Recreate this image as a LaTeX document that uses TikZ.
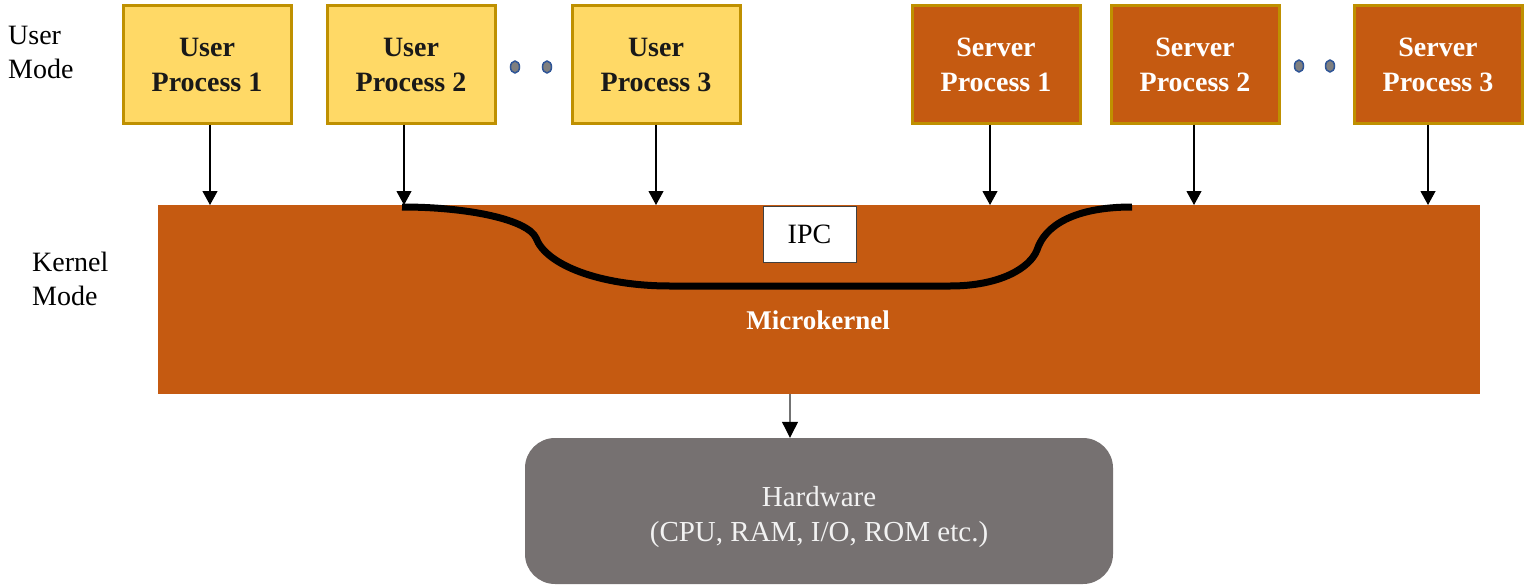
\documentclass[tikz,border=0pt]{standalone}
\usepackage{fontspec}
\setmainfont{Liberation Serif}
\usetikzlibrary{arrows.meta,shapes.geometric}
\definecolor{userfill}{HTML}{FFD966}
\definecolor{goldline}{HTML}{BF9000}
\definecolor{rust}{HTML}{C55A11}
\definecolor{hwgray}{HTML}{767171}
\definecolor{dotblue}{HTML}{2F5597}
\definecolor{dotgray}{HTML}{7F7F7F}
\tikzset{
  procbox/.style={draw=goldline, line width=3pt, minimum width=168pt, minimum height=117pt,
    align=center, inner sep=0pt, font=\fontsize{28}{35}\selectfont\bfseries},
  userproc/.style={procbox, fill=userfill, text=black!90},
  serverproc/.style={procbox, fill=rust, text=white},
  modelabel/.style={align=left, anchor=north west, inner sep=0pt, font=\fontsize{28}{34}\selectfont},
  callarrow/.style={line width=1.1pt, -{Triangle[width=15pt,length=14pt]}},
  ellipsisdot/.style={ellipse, draw=dotblue, line width=1.5pt, fill=dotgray, minimum width=9pt, minimum height=12pt, inner sep=0pt},
  ipcpath/.style={line width=7pt, line cap=butt}
}
\begin{document}
\begin{tikzpicture}[x=1pt, y=-1pt]
\useasboundingbox (0,0) rectangle (1530,586);

% mode labels
\node[modelabel] (umode) at (8,26) {User\\Mode};
\node[modelabel] (kmode) at (32,252) {Kernel\\Mode};

% user-space processes
\node[userproc] (up1) at (207,64.5) {User\\Process 1};
\node[userproc] (up2) at (411,64.5) {User\\Process 2};
\node[userproc] (up3) at (656,64.5) {User\\Process 3};
\node[serverproc] (sp1) at (996,64.5) {Server\\Process 1};
\node[serverproc] (sp2) at (1195,64.5) {Server\\Process 2};
\node[serverproc] (sp3) at (1438,64.5) {Server\\Process 3};

% ellipsis dots between processes
\node[ellipsisdot] (d1) at (515,67) {};
\node[ellipsisdot] (d2) at (547,67) {};
\node[ellipsisdot] (d3) at (1299,66) {};
\node[ellipsisdot] (d4) at (1330,66) {};

% microkernel
\node[fill=rust, minimum width=1322pt, minimum height=189pt, inner sep=0pt] (mk) at (819,299.5) {};
\node[text=white, font=\fontsize{27}{33}\selectfont\bfseries] (mklabel) at (818,320) {Microkernel};

% IPC tag
\node[draw=black!75, line width=0.8pt, fill=white, minimum width=93pt, minimum height=56pt,
      inner sep=0pt, font=\fontsize{28}{34}\selectfont] (ipc) at (809.5,234) {IPC};

% hardware
\node[fill=hwgray, rounded corners=30pt, minimum width=588pt, minimum height=146pt, inner sep=0pt] (hw) at (819,511) {};
\node[align=center, inner sep=0pt, text=white!95!black, font=\fontsize{29}{35}\selectfont] (hwlabel) at (819,517)
      {Hardware\\(CPU, RAM, I/O, ROM etc.)};

% calls from processes into the kernel
\coordinate (t1) at (210,205);
\coordinate (t2) at (404,205);
\coordinate (t3) at (656,205);
\coordinate (t4) at (990,205);
\coordinate (t5) at (1194,205);
\coordinate (t6) at (1428,205);
\draw[callarrow] (up1.south -| t1) -- (t1);
\draw[callarrow] (up2.south -| t2) -- (t2);
\draw[callarrow] (up3.south -| t3) -- (t3);
\draw[callarrow] (sp1.south -| t4) -- (t4);
\draw[callarrow] (sp2.south -| t5) -- (t5);
\draw[callarrow] (sp3.south -| t6) -- (t6);

% kernel to hardware
\coordinate (kb) at (790,394);
\draw[line width=1.1pt, draw=black!55, -{Triangle[width=16pt,length=16pt,black]}] (kb) -- (kb |- hw.north);

% IPC channel
\coordinate (ipcA) at (402,207);
\coordinate (ipcB) at (1132,207);
\draw[ipcpath] (ipcA) .. controls (470,207) and (528,220) .. (536,238)
  .. controls (546,265) and (600,286) .. (670,286) -- (950,286)
  .. controls (1000,286) and (1030,268) .. (1037,250)
  .. controls (1045,225) and (1075,207) .. (ipcB);
\end{tikzpicture}
\end{document}
